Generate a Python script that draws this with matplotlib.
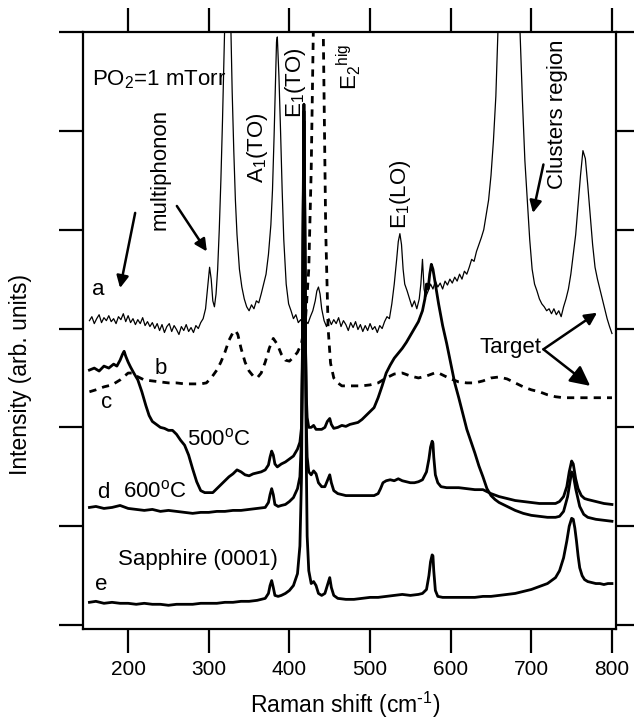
import matplotlib
matplotlib.use('Agg')
import matplotlib.pyplot as plt

plt.rcParams['font.family'] = ['Liberation Sans', 'DejaVu Sans']
plt.rcParams['mathtext.default'] = 'regular'

# ---------------- data ----------------
# curve a : PO2 = 1 mTorr film (thin, noisy)
a_x = [152,155,158,161,164,167,170,173,176,179,182,185,188,191,194,197,200,203,206,209,
       212,215,218,221,224,227,230,233,236,239,242,245,248,251,254,257,260,263,266,269,
       272,275,278,281,284,287,290,293,296,299,301,303,305,307,309,311,313,315,317,319,
       321,323,325,327,329,331,333,335,338,341,344,347,350,353,356,359,362,365,368,371,
       374,377,379,381,383,384,385,387,389,391,393,396,399,402,405,408,411,414,417,420,
       423,426,429,432,434,436,438,440,443,446,449,452,455,458,461,464,467,470,473,476,
       479,482,485,488,491,494,497,500,503,506,509,512,515,518,521,524,527,530,533,535,
       537,539,541,543,546,549,552,555,558,561,563,565,567,569,572,575,578,581,584,587,
       590,593,596,599,602,605,608,611,614,617,620,623,626,629,632,635,638,641,644,647,
       650,653,656,659,662,665,668,671,674,677,680,683,686,689,692,695,698,701,704,707,
       710,713,716,719,722,725,728,731,734,737,740,743,746,749,752,755,758,761,764,767,
       770,773,776,779,782,785,788,791,794,797,800]
a_y = [3.08,3.12,3.05,3.10,3.14,3.06,3.11,3.08,3.13,3.07,3.10,3.05,3.12,3.09,3.15,3.07,3.13,3.06,3.10,3.04,
       3.09,3.05,3.11,3.03,3.07,3.02,3.06,3.00,3.05,2.98,3.04,2.96,3.02,3.05,2.97,3.03,2.99,2.94,3.02,2.98,
       3.04,2.97,3.01,2.96,3.03,3.00,3.06,3.10,3.20,3.45,3.62,3.50,3.28,3.22,3.35,3.60,4.00,4.50,5.10,5.80,
       6.50,7.00,7.00,6.20,5.40,4.80,4.30,3.95,3.60,3.42,3.30,3.22,3.18,3.24,3.20,3.28,3.26,3.35,3.45,3.55,
       3.75,4.05,4.40,4.95,5.60,5.90,5.95,5.55,5.00,4.40,3.90,3.45,3.25,3.18,3.10,3.14,3.06,3.09,3.04,3.08,
       3.05,3.12,3.18,3.28,3.38,3.42,3.35,3.20,3.08,3.02,3.10,3.04,3.09,3.05,3.11,3.02,3.08,3.04,2.98,3.06,
       3.01,3.07,2.99,3.04,2.97,3.03,2.98,3.05,2.99,3.02,2.96,3.03,3.00,3.07,3.12,3.10,3.25,3.45,3.70,3.88,
       3.96,3.85,3.60,3.45,3.38,3.30,3.22,3.28,3.20,3.30,3.45,3.70,3.40,3.32,3.38,3.45,3.40,3.48,3.42,3.46,
       3.40,3.48,3.44,3.50,3.46,3.52,3.48,3.55,3.50,3.58,3.55,3.62,3.70,3.68,3.78,3.85,3.92,4.00,4.15,4.30,
       4.55,4.90,5.35,6.10,6.90,7.50,7.90,8.00,7.90,7.60,7.00,6.60,6.00,5.30,4.70,4.30,3.90,3.60,3.45,3.38,
       3.30,3.25,3.22,3.18,3.20,3.15,3.20,3.14,3.18,3.12,3.22,3.30,3.40,3.55,3.75,3.95,4.25,4.55,4.80,4.72,
       4.45,4.15,3.85,3.62,3.50,3.40,3.30,3.20,3.10,3.02,2.95]

# curve b : target (dashed)
b_x = [152,160,170,180,190,200,205,210,220,230,240,250,260,270,280,290,297,303,310,315,
       320,325,330,333,336,340,345,350,355,360,365,370,375,380,385,390,395,400,405,410,
       415,420,424,427,430,433,436,439,442,445,448,451,455,460,465,470,480,490,500,510,
       520,530,540,550,560,570,580,585,590,600,610,620,630,640,650,660,670,680,690,700,
       710,720,730,740,750,760,770,780,790,800]
b_y = [2.36,2.38,2.41,2.43,2.48,2.55,2.55,2.52,2.48,2.47,2.46,2.45,2.45,2.44,2.44,2.44,2.45,2.50,2.58,2.66,
       2.76,2.88,2.96,2.98,2.94,2.80,2.66,2.57,2.52,2.50,2.55,2.66,2.80,2.90,2.84,2.74,2.68,2.67,2.71,2.76,
       2.85,3.10,3.60,4.60,6.20,8.00,9.00,8.00,6.00,4.00,3.00,2.65,2.50,2.45,2.42,2.42,2.42,2.42,2.43,2.45,
       2.50,2.54,2.55,2.52,2.50,2.52,2.55,2.55,2.53,2.49,2.46,2.45,2.45,2.47,2.50,2.51,2.49,2.45,2.41,2.38,
       2.36,2.33,2.31,2.30,2.30,2.30,2.30,2.30,2.30,2.30]

# curve c : 500 C
c_x = [152,158,164,170,176,182,186,190,193,195,197,200,203,207,212,217,222,226,230,235,
       240,245,250,255,260,265,270,275,280,285,290,295,300,305,310,315,320,325,330,335,
       340,345,350,355,360,365,370,374,376,378,380,382,385,390,395,400,405,410,413,415,
       416,417,418,419,420,421,422,424,427,430,433,436,440,444,447,450,452,455,460,465,
       470,475,480,485,490,495,500,505,510,515,520,525,530,535,540,545,550,555,560,565,
       568,570,572,574,576,578,580,585,590,595,600,605,610,615,620,625,630,635,640,645,
       650,655,660,670,680,690,700,710,720,730,735,740,745,748,750,752,755,760,765,770,
       780,790,800]
c_y = [2.58,2.60,2.57,2.62,2.60,2.64,2.62,2.68,2.74,2.77,2.72,2.66,2.61,2.55,2.48,2.36,2.22,2.12,2.06,2.03,
       2.00,1.99,1.97,1.97,1.93,1.87,1.82,1.72,1.58,1.45,1.36,1.34,1.34,1.34,1.38,1.42,1.46,1.50,1.53,1.57,
       1.55,1.52,1.51,1.53,1.54,1.55,1.57,1.62,1.70,1.76,1.72,1.63,1.60,1.63,1.65,1.68,1.71,1.78,1.85,2.00,
       2.60,4.00,5.20,4.20,2.80,2.30,2.10,2.00,2.00,2.02,1.98,1.98,1.98,2.00,2.06,2.09,2.03,1.99,2.00,2.02,
       2.01,2.03,2.04,2.05,2.08,2.12,2.16,2.20,2.30,2.42,2.55,2.63,2.70,2.75,2.80,2.86,2.93,3.00,3.07,3.18,
       3.30,3.45,3.40,3.55,3.65,3.60,3.50,3.25,3.03,2.85,2.65,2.45,2.30,2.14,1.98,1.86,1.74,1.61,1.50,1.38,
       1.31,1.27,1.24,1.20,1.16,1.13,1.11,1.10,1.09,1.09,1.10,1.15,1.30,1.45,1.55,1.52,1.38,1.20,1.12,1.09,
       1.07,1.06,1.05]

# curve d : 600 C
d_x = [152,160,170,180,190,200,210,220,230,240,250,260,270,280,290,300,310,320,330,340,
       350,360,370,374,376,378,380,382,386,390,395,400,405,410,413,415,416,417,418,419,
       420,421,422,424,427,430,433,436,440,444,447,450,452,455,460,470,480,490,500,505,
       510,513,516,520,525,530,535,540,545,550,555,560,565,570,573,575,577,578,579,581,
       584,588,595,600,610,620,630,640,650,660,670,680,690,700,710,720,730,735,740,744,
       747,750,752,755,758,762,766,770,780,790,800]
d_y = [1.19,1.20,1.18,1.19,1.21,1.18,1.17,1.16,1.17,1.15,1.16,1.15,1.14,1.13,1.14,1.14,1.15,1.15,1.16,1.16,
       1.17,1.18,1.19,1.24,1.32,1.38,1.32,1.22,1.20,1.21,1.22,1.25,1.29,1.38,1.50,1.90,2.60,4.00,5.10,4.10,
       2.80,2.00,1.70,1.55,1.52,1.56,1.53,1.44,1.40,1.40,1.46,1.52,1.44,1.36,1.33,1.31,1.31,1.31,1.31,1.31,
       1.33,1.38,1.44,1.46,1.47,1.46,1.48,1.46,1.45,1.44,1.44,1.45,1.47,1.55,1.68,1.80,1.86,1.84,1.70,1.52,
       1.44,1.40,1.39,1.39,1.39,1.38,1.37,1.37,1.33,1.30,1.28,1.26,1.25,1.24,1.23,1.23,1.23,1.25,1.30,1.40,
       1.55,1.66,1.63,1.48,1.38,1.31,1.28,1.27,1.25,1.23,1.22]

# curve e : sapphire (0001) substrate
e_x = [152,160,170,180,190,200,210,220,230,240,250,260,270,280,290,300,310,320,330,340,
       350,360,370,374,376,378,380,382,386,390,395,400,405,410,413,415,416,417,418,419,
       420,421,422,424,427,430,433,436,440,444,447,450,452,455,460,470,480,490,500,510,
       520,530,540,550,560,565,570,573,575,577,578,579,581,584,590,600,610,620,630,640,
       650,660,670,680,690,700,710,720,730,735,740,744,747,750,752,754,756,758,760,763,
       766,770,775,780,785,790,795,800]
e_y = [0.23,0.24,0.22,0.23,0.22,0.22,0.21,0.22,0.21,0.21,0.20,0.21,0.21,0.21,0.22,0.22,0.22,0.23,0.23,0.24,
       0.24,0.25,0.27,0.32,0.40,0.45,0.38,0.30,0.29,0.30,0.32,0.35,0.40,0.52,0.80,1.50,2.60,4.20,5.27,4.30,
       2.90,1.60,0.90,0.55,0.42,0.44,0.40,0.32,0.30,0.32,0.40,0.48,0.38,0.30,0.27,0.26,0.26,0.27,0.28,0.28,
       0.29,0.30,0.31,0.30,0.31,0.32,0.36,0.50,0.64,0.71,0.70,0.55,0.35,0.29,0.28,0.28,0.28,0.28,0.28,0.29,
       0.29,0.30,0.31,0.32,0.34,0.36,0.39,0.42,0.48,0.55,0.68,0.85,1.00,1.08,1.07,0.98,0.85,0.70,0.58,0.50,
       0.46,0.44,0.43,0.42,0.42,0.41,0.42,0.42]

x_ticks = [200, 300, 400, 500, 600, 700, 800]
y_ticks = [0, 1, 2, 3, 4, 5, 6]

# ---------------- figure ----------------
fig = plt.figure(figsize=(6.34, 7.23), dpi=100)
ax = fig.add_axes([0.1309, 0.130, 0.8407, 0.8257])

ax.plot(e_x, e_y, color='black', lw=2.0)
ax.plot(d_x, d_y, color='black', lw=2.0)
ax.plot(c_x, c_y, color='black', lw=2.0)
ax.plot(b_x, b_y, color='black', lw=2.0, linestyle=(0, (2.6, 2.2)))
ax.plot(a_x, a_y, color='black', lw=0.9)

ax.set_xlim(144, 805)
ax.set_ylim(-0.04, 6.0)
ax.set_xticks(x_ticks)
ax.set_yticks(y_ticks)
ax.tick_params(direction='out', length=17, width=1.6, top=True, right=True,
               labelleft=False, labelsize=15, pad=5)
for s in ax.spines.values():
    s.set_linewidth(1.6)

fig.text(345 / 634, 1 - 705 / 723, r'Raman shift (cm$^{\text{-}1}$)', fontsize=16.5,
         ha='center', va='center')
fig.text(21 / 634, 1 - 374 / 723, 'Intensity (arb. units)', fontsize=16.5,
         rotation=90, ha='center', va='center')

fs = 16
ax.text(155, 5.52, 'PO$_2$=1 mTorr', fontsize=fs, ha='left', va='center')
ax.text(240, 4.61, 'multiphonon', fontsize=fs, rotation=90, ha='center', va='center')
ax.text(360, 4.83, 'A$_1$(TO)', fontsize=fs, rotation=90, ha='center', va='center')
ax.text(407, 5.49, 'E$_1$(TO)', fontsize=fs, rotation=90, ha='center', va='center')
ax.text(474, 5.65, 'E$_2{}^{hig}$', fontsize=fs, rotation=90, ha='center', va='center')
ax.text(537.5, 4.36, 'E$_1$(LO)', fontsize=fs, rotation=90, ha='center', va='center')
ax.text(732, 5.17, 'Clusters region', fontsize=fs, rotation=90, ha='center', va='center')
ax.text(674, 2.81, 'Target', fontsize=fs, ha='center', va='center')
ax.text(163, 3.40, 'a', fontsize=fs, ha='center', va='center')
ax.text(240, 2.60, 'b', fontsize=fs, ha='center', va='center')
ax.text(173.6, 2.25, 'c', fontsize=fs, ha='center', va='center')
ax.text(273, 1.88, '500$^o$C', fontsize=fs, ha='left', va='center')
ax.text(169, 1.34, 'd', fontsize=fs, ha='center', va='center')
ax.text(194, 1.35, '600$^o$C', fontsize=fs, ha='left', va='center')
ax.text(187.6, 0.66, 'Sapphire (0001)', fontsize=fs, ha='left', va='center')
ax.text(167, 0.41, 'e', fontsize=fs, ha='center', va='center')

arrow = dict(arrowstyle='-|>', lw=1.8, color='black', mutation_scale=18, shrinkA=0, shrinkB=0)
big_arrow = dict(arrowstyle='-|>', lw=1.8, color='black', mutation_scale=30, shrinkA=0, shrinkB=0)
ax.annotate('', xy=(190, 3.41), xytext=(208.7, 4.17), arrowprops=arrow)
ax.annotate('', xy=(297.6, 3.78), xytext=(260.4, 4.24), arrowprops=arrow)
ax.annotate('', xy=(702, 4.17), xytext=(715, 4.66), arrowprops=arrow)
ax.annotate('', xy=(781.5, 3.16), xytext=(715, 2.79), arrowprops=arrow)
ax.annotate('', xy=(773, 2.42), xytext=(715, 2.79), arrowprops=big_arrow)

fig.savefig('out.png', dpi=100)
